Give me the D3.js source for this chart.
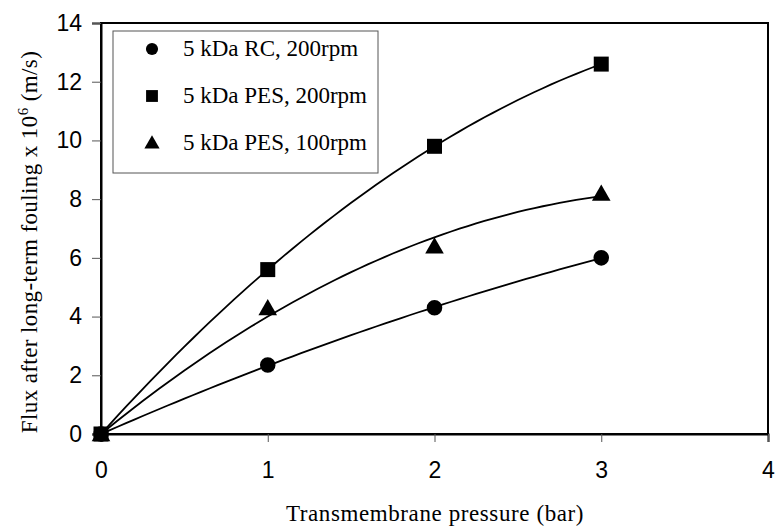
<!DOCTYPE html>
<html>
<head>
<meta charset="utf-8">
<script src="https://cdn.jsdelivr.net/npm/d3@7"></script>
<style>
  html, body { margin: 0; padding: 0; background: #fff; }
  svg { display: block; }
  .tick text { font-family: "Liberation Sans", Arial, sans-serif; font-size: 23px; fill: #000; }
  .serif { font-family: "Liberation Serif", "Times New Roman", serif; fill: #000; }
</style>
</head>
<body>
<svg id="chart" width="777" height="529"></svg>
<script>
'use strict';

// Дані з рисунка
const pressure   = [0, 1, 2, 3];
const rc200      = [0, 2.35, 4.3, 6.0];
const pes200     = [0, 5.6, 9.8, 12.6];
const pes100     = [0, 4.3, 6.4, 8.2];
const seriesName = ['5 kDa RC, 200rpm', '5 kDa PES, 200rpm', '5 kDa PES, 100rpm'];
const xTicks     = [0, 1, 2, 3, 4];
const yTicks     = [0, 2, 4, 6, 8, 10, 12, 14];

const series = [
  { name: seriesName[0], values: rc200,  symbol: d3.symbolCircle },
  { name: seriesName[1], values: pes200, symbol: d3.symbolSquare },
  { name: seriesName[2], values: pes100, symbol: d3.symbolTriangle }
];

// Поліноміальний тренд 2-го порядку через нуль: y = a·x + b·x²
function fitQuadThroughOrigin(xs, ys) {
  let s2 = 0, s3 = 0, s4 = 0, sxy = 0, sx2y = 0;
  xs.forEach((x, i) => {
    s2 += x * x; s3 += x * x * x; s4 += x * x * x * x;
    sxy += x * ys[i]; sx2y += x * x * ys[i];
  });
  const det = s2 * s4 - s3 * s3;
  const a = (sxy * s4 - s3 * sx2y) / det;
  const b = (s2 * sx2y - s3 * sxy) / det;
  return x => a * x + b * x * x;
}

const svg = d3.select('#chart');
const margin = { top: 23, right: 9, bottom: 95, left: 101 };
const width  = 777 - margin.left - margin.right;
const height = 529 - margin.top - margin.bottom;

const x = d3.scaleLinear().domain([0, 4]).range([0, width]);
const y = d3.scaleLinear().domain([0, 14]).range([height, 0]);

const g = svg.append('g').attr('transform', `translate(${margin.left},${margin.top})`);

// Рамка
g.append('rect').attr('x', 0).attr('y', 0).attr('width', width).attr('height', height)
  .attr('fill', 'none').attr('stroke', '#000').attr('stroke-width', 2);

// Осі
const xAxis = g.append('g').attr('transform', `translate(0,${height})`)
  .call(d3.axisBottom(x).tickValues(xTicks).tickSize(8).tickPadding(20).tickFormat(d3.format('d')));
const yAxis = g.append('g')
  .call(d3.axisLeft(y).tickValues(yTicks).tickSize(9).tickPadding(10).tickFormat(d3.format('d')));
[xAxis, yAxis].forEach(ax => {
  ax.select('.domain').attr('stroke', '#000').attr('stroke-width', 2);
  ax.selectAll('.tick line').attr('stroke', '#555').attr('stroke-width', 1);
});

// Лінії тренду
const line = d3.line().x(d => x(d[0])).y(d => y(d[1])).curve(d3.curveLinear);
series.forEach(s => {
  const f = fitQuadThroughOrigin(pressure, s.values);
  const pts = d3.range(0, 3.0001, 0.05).map(t => [t, f(t)]);
  g.append('path').datum(pts).attr('d', line)
    .attr('fill', 'none').attr('stroke', '#000').attr('stroke-width', 1.8);
});

// Маркери
series.forEach(s => {
  const size = s.symbol === d3.symbolTriangle ? 150 : (s.symbol === d3.symbolSquare ? 225 : 190);
  const sym = d3.symbol().type(s.symbol).size(size);
  g.selectAll(null).data(pressure.map((p, i) => [p, s.values[i]])).enter()
    .append('path').attr('d', sym)
    .attr('transform', d => `translate(${x(d[0])},${y(d[1]) + (s.symbol === d3.symbolTriangle ? 2 : 0)})`)
    .attr('fill', '#000');
});

// Легенда
const leg = svg.append('g');
leg.append('rect').attr('x', 113).attr('y', 31).attr('width', 265).attr('height', 142)
  .attr('fill', '#fff').attr('stroke', '#555').attr('stroke-width', 1);
series.forEach((s, i) => {
  const cy = 49 + i * 47;
  const size = s.symbol === d3.symbolTriangle ? 100 : (s.symbol === d3.symbolSquare ? 140 : 115);
  leg.append('path').attr('d', d3.symbol().type(s.symbol).size(size))
    .attr('transform', `translate(152,${cy + (s.symbol === d3.symbolTriangle ? 1 : 0)})`).attr('fill', '#000');
  leg.append('text').attr('class', 'serif').attr('x', 183).attr('y', cy + 7)
    .attr('font-size', 23).text(s.name);
});

// Підписи осей
svg.append('text').attr('class', 'serif').attr('x', 435).attr('y', 521)
  .attr('text-anchor', 'middle').attr('font-size', 23).attr('letter-spacing', 0.6)
  .text('Transmembrane pressure (bar)');

const yt = svg.append('text').attr('class', 'serif')
  .attr('transform', 'translate(37,242) rotate(-90)')
  .attr('text-anchor', 'middle').attr('font-size', 23).attr('letter-spacing', 0.4);
yt.append('tspan').text('Flux after long-term fouling x 10');
yt.append('tspan').attr('dy', -9).attr('font-size', 15).text('6');
yt.append('tspan').attr('dy', 9).text(' (m/s)');
</script>
</body>
</html>
